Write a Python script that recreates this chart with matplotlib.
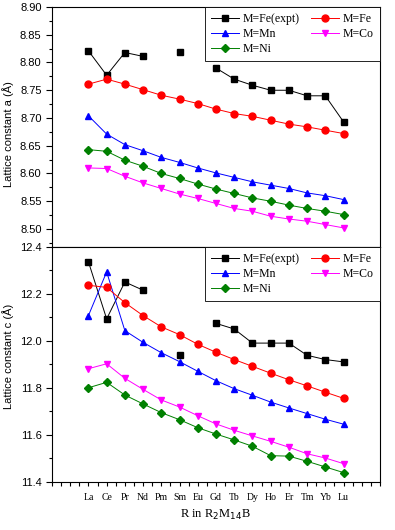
import numpy as np
import matplotlib
matplotlib.use("Agg")
import matplotlib.pyplot as plt
from matplotlib.ticker import MultipleLocator, FixedLocator

plt.rcParams['font.family'] = ['Liberation Sans', 'DejaVu Sans']

nan = np.nan
elements = ['La', 'Ce', 'Pr', 'Nd', 'Pm', 'Sm', 'Eu', 'Gd', 'Tb', 'Dy', 'Ho', 'Er', 'Tm', 'Yb', 'Lu']

# lattice constant a (Angstrom)
a_fe_expt = [8.821, 8.777, 8.818, 8.811, nan, 8.819, nan, 8.790, 8.770, 8.759, 8.750, 8.750, 8.740, 8.740, 8.693]
a_fe = [8.761, 8.770, 8.761, 8.751, 8.741, 8.734, 8.726, 8.716, 8.708, 8.703, 8.696, 8.689, 8.684, 8.678, 8.672]
a_mn = [8.704, 8.671, 8.652, 8.641, 8.629, 8.620, 8.610, 8.601, 8.593, 8.585, 8.579, 8.573, 8.565, 8.560, 8.553]
a_co = [8.610, 8.609, 8.595, 8.583, 8.573, 8.563, 8.555, 8.546, 8.537, 8.532, 8.523, 8.518, 8.514, 8.508, 8.502]
a_ni = [8.643, 8.640, 8.624, 8.613, 8.600, 8.591, 8.581, 8.572, 8.564, 8.556, 8.550, 8.543, 8.537, 8.532, 8.526]

# lattice constant c (Angstrom)
c_fe_expt = [12.337, 12.094, 12.251, 12.216, nan, 11.940, nan, 12.075, 12.051, 11.991, 11.991, 11.991, 11.939, 11.921, 11.911]
c_fe = [12.237, 12.228, 12.163, 12.108, 12.060, 12.027, 11.986, 11.952, 11.921, 11.892, 11.863, 11.835, 11.809, 11.782, 11.756]
c_mn = [12.108, 12.294, 12.044, 11.994, 11.950, 11.912, 11.871, 11.831, 11.797, 11.769, 11.740, 11.715, 11.691, 11.667, 11.646]
c_co = [11.882, 11.903, 11.841, 11.794, 11.749, 11.719, 11.682, 11.647, 11.620, 11.596, 11.573, 11.548, 11.520, 11.502, 11.478]
c_ni = [11.801, 11.824, 11.770, 11.732, 11.695, 11.665, 11.631, 11.604, 11.579, 11.552, 11.512, 11.510, 11.488, 11.464, 11.440]

x = np.arange(len(elements))

styles = [
    ('M=Fe(expt)', 'k', 's', 4.5),
    ('M=Mn', '#0000ff', '^', 5.0),
    ('M=Ni', '#008000', 'D', 4.2),
    ('M=Fe', '#ff0000', 'o', 5.0),
    ('M=Co', '#ff00ff', 'v', 5.0),
]

fig = plt.figure(figsize=(3.95, 5.30), dpi=100)
ax1 = fig.add_axes([0.1316, 0.534, 0.8304, 0.4528])
ax2 = fig.add_axes([0.1316, 0.0906, 0.8304, 0.4434])

serif = ['Liberation Serif', 'DejaVu Serif']

def draw(ax, series):
    for (label, col, mk, ms), y in zip(styles, series):
        ax.plot(x, y, color=col, lw=0.7, marker=mk, ms=ms, mfc=col, mec=col, label=label)
    ax.set_xlim(-2, 16)
    leg = ax.legend(loc='upper right', ncol=2, borderaxespad=0, fancybox=False,
                    framealpha=1, edgecolor='k', prop={'family': serif, 'size': 8.5},
                    handlelength=2.4, columnspacing=0.9, handletextpad=0.35,
                    labelspacing=0.25, borderpad=0.5)
    leg.get_frame().set_linewidth(0.6)
    for sp in ax.spines.values():
        sp.set_linewidth(0.8)
    ax.tick_params(axis='y', which='both', direction='out', labelsize=8, width=0.8)
    ax.tick_params(axis='y', which='major', length=4)
    ax.tick_params(axis='y', which='minor', length=2)

draw(ax1, [a_fe_expt, a_mn, a_ni, a_fe, a_co])
draw(ax2, [c_fe_expt, c_mn, c_ni, c_fe, c_co])

ax1.set_ylim(8.4676, 8.90)
ax1.yaxis.set_major_locator(MultipleLocator(0.05))
ax1.yaxis.set_minor_locator(MultipleLocator(0.025))
ax1.yaxis.set_major_formatter(plt.FormatStrFormatter('%.2f'))
ax1.set_xticks([])
ax1.set_ylabel('Lattice constant a (Å)', fontsize=8)
ax1.yaxis.set_label_coords(-0.115, 0.47)

ax2.set_ylim(11.4, 12.4)
ax2.yaxis.set_major_locator(MultipleLocator(0.2))
ax2.yaxis.set_minor_locator(MultipleLocator(0.1))
ax2.yaxis.set_major_formatter(plt.FormatStrFormatter('%.1f'))
ax2.set_xticks(x)
ax2.set_xticklabels(elements, family=serif, fontsize=7)
ax2.xaxis.set_minor_locator(FixedLocator(np.arange(-2, 16.01, 0.5)))
ax2.tick_params(axis='x', which='both', direction='out', length=3, width=0.8, pad=5)
ax2.set_ylabel('Lattice constant c (Å)', fontsize=8)
ax2.yaxis.set_label_coords(-0.115, 0.535)
ax2.set_xlabel('R in R$_2$M$_{14}$B', family=serif, fontsize=9, labelpad=4)

fig.savefig('out.png', dpi=100)
